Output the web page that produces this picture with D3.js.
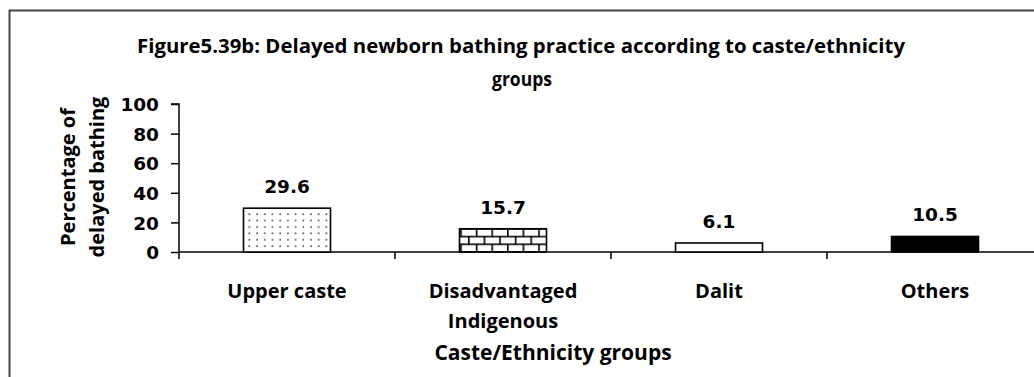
<!DOCTYPE html>
<html>
<head>
<meta charset="utf-8">
<script src="https://cdn.jsdelivr.net/npm/d3@7"></script>
<style>
  html, body { margin: 0; padding: 0; background: #fff; }
  svg { display: block; }
  text { font-family: "Open Sans", Lato, sans-serif; font-weight: bold; fill: #000; }
  .num { font-family: "DejaVu Sans", sans-serif; }
</style>
</head>
<body>
<svg id="chart" width="1034" height="377"></svg>
<script>
// Delayed newborn bathing by caste/ethnicity group (%)
const categories = ["Upper caste", "Disadvantaged\nIndigenous", "Dalit", "Others"];
const values = [29.6, 15.7, 6.1, 10.5];
const fills = ["url(#dots)", "url(#bricks)", "#ffffff", "#000000"];
const yTicks = [0, 20, 40, 60, 80, 100];
const titleLines = ["Figure5.39b: Delayed newborn bathing practice according to caste/ethnicity", "groups"];
const yTitleLines = ["Percentage of", "delayed bathing"];
const xTitle = "Caste/Ethnicity groups";

const W = 1034, H = 377;
const FS = "20px", NFS = "18.5px";
const svg = d3.select("#chart");

// fill patterns
const defs = svg.append("defs");
const dots = defs.append("pattern").attr("id", "dots").attr("patternUnits", "userSpaceOnUse")
  .attr("width", 7.7).attr("height", 6.4);
dots.append("rect").attr("width", 7.7).attr("height", 6.4).attr("fill", "#fff");
dots.append("circle").attr("cx", 3).attr("cy", 3).attr("r", 0.85).attr("fill", "#333");

const bricks = defs.append("pattern").attr("id", "bricks").attr("patternUnits", "userSpaceOnUse")
  .attr("width", 15.6).attr("height", 15.4).attr("y", 252);
bricks.append("rect").attr("width", 15.6).attr("height", 15.4).attr("fill", "#fff");
const bp = bricks.append("g").attr("stroke", "#000").attr("stroke-width", 1.6);
bp.append("line").attr("x1", 0).attr("x2", 15.6).attr("y1", 0).attr("y2", 0);
bp.append("line").attr("x1", 0).attr("x2", 15.6).attr("y1", 7.7).attr("y2", 7.7);
bp.append("line").attr("x1", 0).attr("x2", 15.6).attr("y1", 15.4).attr("y2", 15.4);
bp.append("line").attr("x1", 0.8).attr("x2", 0.8).attr("y1", 0).attr("y2", 7.7);
bp.append("line").attr("x1", 8.6).attr("x2", 8.6).attr("y1", 7.7).attr("y2", 15.4);

// outer frame (left and top edges visible)
svg.append("path").attr("d", `M9.5,${H} V10.5 H${W}`)
  .attr("fill", "none").attr("stroke", "#444").attr("stroke-width", 2);

// title
const title = svg.append("text").attr("text-anchor", "middle").style("font-size", "19px");
title.append("tspan").attr("x", 521).attr("y", 53).text(titleLines[0])
  .attr("textLength", 768).attr("lengthAdjust", "spacingAndGlyphs");
title.append("tspan").attr("x", 522).attr("y", 86).text(titleLines[1])
  .attr("textLength", 60).attr("lengthAdjust", "spacingAndGlyphs");

// scales
const left = 179, bottom = 252;
const x = d3.scaleBand().domain(categories).range([left, left + 4 * 216]).paddingInner(0).paddingOuter(0);
const y = d3.scaleLinear().domain([0, 100]).range([bottom, 104]);
const barW = 87;

// y axis
const yAxis = svg.append("g").attr("transform", `translate(${left},0)`)
  .call(d3.axisLeft(y).tickValues(yTicks).tickSize(8).tickPadding(12).tickFormat(d3.format("d")));
yAxis.select(".domain").attr("d", `M-8,${y(100)}H0V${bottom + 7}`).attr("stroke-width", 1.5);
yAxis.selectAll(".tick line").attr("stroke-width", 1.5);
yAxis.selectAll("text").attr("class", "num").style("font-size", NFS).attr("dy", "0.36em")
  .style("font-family", "'DejaVu Sans', sans-serif").style("font-weight", "bold");

// x axis line and category ticks
const xAxis = svg.append("g").attr("transform", `translate(0,${bottom})`)
  .call(d3.axisBottom(x).tickSize(0).tickFormat(""));
xAxis.select(".domain").attr("d", `M${left},0H${W}`).attr("stroke-width", 1.5);
xAxis.selectAll(".tick").remove();
xAxis.selectAll(".sep").data(categories.slice(1)).join("line")
  .attr("class", "sep")
  .attr("x1", d => x(d)).attr("x2", d => x(d))
  .attr("y1", 0).attr("y2", 7).attr("stroke", "#000").attr("stroke-width", 1.5);

// bars
svg.append("g").selectAll("rect").data(values).join("rect")
  .attr("x", (d, i) => x(categories[i]) + x.bandwidth() / 2 - barW / 2)
  .attr("y", d => y(d))
  .attr("width", barW)
  .attr("height", d => bottom - y(d))
  .attr("fill", (d, i) => fills[i])
  .attr("stroke", "#000").attr("stroke-width", 1.6);

// value labels
svg.append("g").selectAll("text").data(values).join("text")
  .attr("class", "num")
  .attr("x", (d, i) => x(categories[i]) + x.bandwidth() / 2)
  .attr("y", d => y(d) - 15)
  .attr("text-anchor", "middle").style("font-size", NFS)
  .text(d => d3.format(".1f")(d));

// category labels
const catG = svg.append("g");
categories.forEach((c, i) => {
  const t = catG.append("text").attr("text-anchor", "middle").style("font-size", FS);
  c.split("\n").forEach((line, j) => {
    t.append("tspan").attr("x", x(c) + x.bandwidth() / 2).attr("y", 298 + j * 30).text(line);
  });
});

// axis titles
svg.append("text").attr("x", 553).attr("y", 360).attr("text-anchor", "middle")
  .style("font-size", "21px").text(xTitle);
yTitleLines.forEach((line, j) => {
  svg.append("text")
    .attr("transform", `translate(${75 + j * 29},177) rotate(-90)`)
    .attr("text-anchor", "middle").style("font-size", FS).text(line);
});
</script>
</body>
</html>
